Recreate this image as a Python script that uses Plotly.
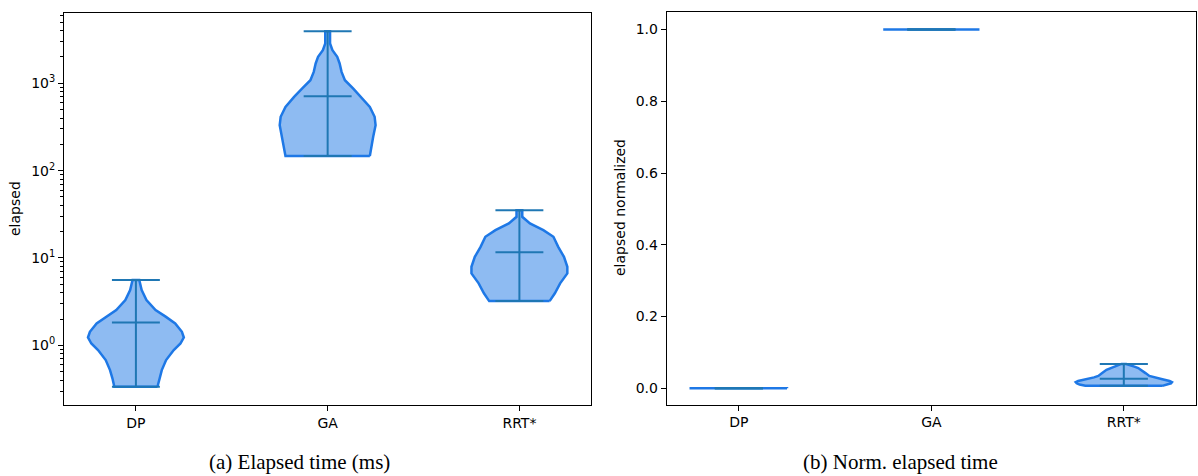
import numpy as np
import plotly.graph_objects as go

# ---------------- data ----------------
methods = ["DP", "GA", "RRT*"]
positions = [1, 2, 3]

# (a) elapsed time (ms): density profile (value levels, relative width)
dp_y = [0.336, 0.419, 0.521, 0.679, 0.883, 1.05, 1.23, 1.43, 1.78, 2.13, 2.54, 3.30, 4.29, 5.59]
dp_d = [0.45, 0.49, 0.54, 0.63, 0.79, 0.93, 1.0, 0.96, 0.82, 0.62, 0.41, 0.22, 0.12, 0.07]
ga_y = [147, 187, 244, 331, 413, 537, 699, 872, 1084, 1350, 1686, 2005, 2392, 2851, 3945]
ga_d = [0.88, 0.91, 0.95, 1.0, 0.98, 0.88, 0.70, 0.53, 0.36, 0.29, 0.25, 0.20, 0.10, 0.05, 0.05]
rrt_y = [3.21, 3.94, 5.12, 6.66, 7.93, 10.3, 13.4, 17.5, 20.8, 24.9, 29.6, 35.3]
rrt_d = [0.63, 0.74, 0.85, 1.0, 1.0, 0.93, 0.81, 0.71, 0.50, 0.22, 0.06, 0.06]
elapsed_means = [1.83, 711, 11.6]

# (b) normalized elapsed time
dpn_y = [0.0, 0.0006]
dpn_d = [1.0, 1.0]
gan_y = [1.0, 1.0]
gan_d = [1.0, 1.0]
rrtn_y = [0.007, 0.0105, 0.014, 0.0173, 0.0205, 0.0255, 0.0305, 0.0345, 0.0425, 0.0515, 0.0565, 0.0605, 0.0645, 0.068]
rrtn_d = [0.80, 0.92, 0.98, 1.0, 0.95, 0.80, 0.62, 0.53, 0.45, 0.36, 0.30, 0.22, 0.12, 0.05]
norm_means = [0.0003, 1.0, 0.0265]

log_ticks = [1, 10, 100, 1000]
log_ticktext = ["10<sup>0</sup>", "10<sup>1</sup>", "10<sup>2</sup>", "10<sup>3</sup>"]
lin_ticks = [0.0, 0.2, 0.4, 0.6, 0.8, 1.0]
lin_ticktext = ["0.0", "0.2", "0.4", "0.6", "0.8", "1.0"]

# ---------------- styling ----------------
FILL = "rgba(30,120,230,0.5)"
EDGE = "#1e78e6"
LINE = "#1f77b4"
HALF = 0.25   # half of violin width (widths=0.5)
CAP = 0.125

W, H = 1198, 476
fig = go.Figure()


def add_violins(profiles, means, xa, ya):
    lx, ly = [], []
    for pos, (ys, ds), m in zip(positions, profiles, means):
        ys = np.asarray(ys, float)
        ds = np.asarray(ds, float)
        hw = HALF * ds / ds.max()
        x = np.concatenate([pos + hw, (pos - hw)[::-1], [pos + hw[0]]])
        y = np.concatenate([ys, ys[::-1], [ys[0]]])
        fig.add_trace(go.Scatter(x=x, y=y, mode="lines", fill="toself",
                                 fillcolor=FILL, line=dict(color=EDGE, width=2.5),
                                 xaxis=xa, yaxis=ya, showlegend=False, hoverinfo="skip"))
        lo, hi = ys.min(), ys.max()
        lx += [pos - CAP, pos + CAP, None, pos - CAP, pos + CAP, None,
               pos - CAP, pos + CAP, None, pos, pos, None]
        ly += [lo, lo, None, hi, hi, None, m, m, None, lo, hi, None]
    fig.add_trace(go.Scatter(x=lx, y=ly, mode="lines", line=dict(color=LINE, width=2),
                             xaxis=xa, yaxis=ya, showlegend=False, hoverinfo="skip"))


add_violins([(dp_y, dp_d), (ga_y, ga_d), (rrt_y, rrt_d)], elapsed_means, "x", "y")
add_violins([(dpn_y, dpn_d), (gan_y, gan_d), (rrtn_y, rrtn_d)], norm_means, "x2", "y2")

# invisible carrier so the minor-tick overlay axis is rendered
fig.add_trace(go.Scatter(x=[positions[0]], y=[dp_y[0]], mode="markers", opacity=0,
                         xaxis="x", yaxis="y3", showlegend=False, hoverinfo="skip"))

font = dict(family="DejaVu Sans", size=14, color="black")
axcommon = dict(showline=True, linecolor="black", linewidth=1, mirror=True,
                showgrid=False, zeroline=False, ticks="outside", ticklen=5,
                tickwidth=1, tickcolor="black", tickfont=font, automargin=False)

minor_vals = [k * 10 ** e for e in range(-1, 4) for k in range(2, 10)]
ydom1 = [1 - 405 / H, 1 - 12.7 / H]
yrange1 = [-0.683, 3.808]

fig.update_layout(
    width=W, height=H,
    margin=dict(l=0, r=0, t=0, b=0, autoexpand=False),
    paper_bgcolor="white", plot_bgcolor="white",
    xaxis=dict(domain=[64 / W, 591.3 / W], range=[0.625, 3.375],
               tickvals=positions, ticktext=methods, anchor="y", **axcommon),
    yaxis=dict(domain=ydom1, type="log", range=yrange1,
               tickvals=log_ticks, ticktext=log_ticktext, anchor="x", **axcommon),
    yaxis3=dict(domain=ydom1, type="log", range=yrange1, overlaying="y", anchor="x",
                side="left", showline=False, showgrid=False, zeroline=False,
                ticks="outside", ticklen=3, tickwidth=1, tickcolor="black",
                tickvals=minor_vals, showticklabels=False, automargin=False),
    xaxis2=dict(domain=[666.7 / W, 1196 / W], range=[0.625, 3.375],
                tickvals=positions, ticktext=methods, anchor="y2", **axcommon),
    yaxis2=dict(domain=[1 - 404.5 / H, 1 - 11.5 / H], range=[-0.045, 1.05],
                tickvals=lin_ticks, ticktext=lin_ticktext, anchor="x2", **axcommon),
)

ann_font = dict(family="DejaVu Sans", size=14, color="black")
cap_font = dict(family="Liberation Serif", size=21, color="black")
fig.add_annotation(text="elapsed", x=15 / W, y=1 - 209 / H, xref="paper", yref="paper",
                   textangle=-90, showarrow=False, font=ann_font,
                   xanchor="center", yanchor="middle")
fig.add_annotation(text="elapsed normalized", x=620 / W, y=1 - 208 / H, xref="paper",
                   yref="paper", textangle=-90, showarrow=False, font=ann_font,
                   xanchor="center", yanchor="middle")
fig.add_annotation(text="(a) Elapsed time (ms)", x=299 / W, y=1 - 462 / H, xref="paper",
                   yref="paper", showarrow=False, font=cap_font,
                   xanchor="center", yanchor="middle")
fig.add_annotation(text="(b) Norm. elapsed time", x=900 / W, y=1 - 462 / H, xref="paper",
                   yref="paper", showarrow=False, font=cap_font,
                   xanchor="center", yanchor="middle")

fig.write_html("out.html",
               config={"displayModeBar": False},
               post_script="document.body.style.margin='0px';"
                           "document.body.style.overflow='hidden';")
